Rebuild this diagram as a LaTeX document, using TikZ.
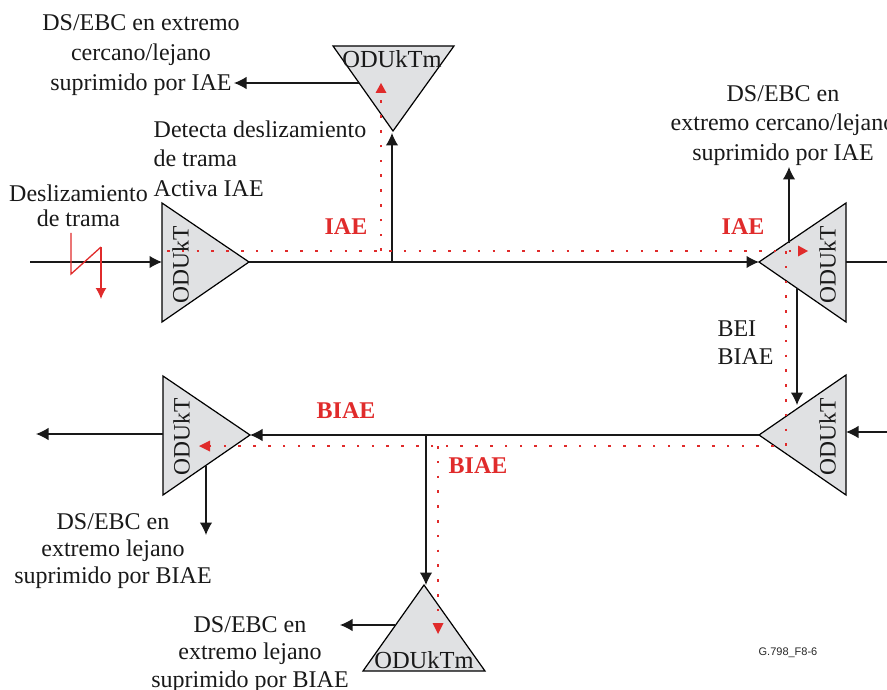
\documentclass[tikz,border=0pt]{standalone}
\usepackage{fontspec}
\setmainfont{Liberation Serif}
\setsansfont{Liberation Sans}
\usetikzlibrary{arrows.meta}
\definecolor{tri}{HTML}{E0E1E3}
\definecolor{redd}{HTML}{E02B2B}
\tikzset{
  x=1pt,y=-1pt,
  tribox/.style={draw=black,fill=tri,line width=1.2pt,line join=miter},
  wire/.style={draw=black!90,line width=1.15pt},
  flow/.style={wire,-{Latex[length=12.5pt,width=12.5pt]}},
  redflow/.style={draw=redd,line width=2.4pt,dash pattern=on 2.6pt off 12.2pt},
  redtip/.style={fill=redd,draw=none},
  lbl/.style={font=\fontsize{24}{29}\selectfont,align=center,inner sep=0pt,text=black!90},
  lblleft/.style={lbl,align=left},
  redlbl/.style={font=\fontsize{24}{24}\selectfont\bfseries,text=redd,inner sep=0pt},
  tname/.style={font=\fontsize{24.5}{24}\selectfont,inner sep=0pt,text=black!90},
  tnamev/.style={font=\fontsize{23.5}{24}\selectfont,inner sep=0pt,text=black!90,rotate=90},
}
\begin{document}
\begin{tikzpicture}
\clip (0,0) rectangle (887,690);
% triangle corners
\coordinate (aT) at (162,203); \coordinate (aB) at (162,322); \coordinate (aP) at (249,262);
\coordinate (bT) at (846,203); \coordinate (bB) at (846,322); \coordinate (bP) at (759,262);
\coordinate (cT) at (846,375); \coordinate (cB) at (846,495); \coordinate (cP) at (759,435);
\coordinate (dT) at (163,376); \coordinate (dB) at (163,495); \coordinate (dP) at (250,435);
\coordinate (eL) at (333,46);  \coordinate (eR) at (454,46);  \coordinate (eP) at (393,131);
\coordinate (fL) at (363,671); \coordinate (fR) at (485,671); \coordinate (fP) at (424,585);
% connector ends
\coordinate (inA) at (30,262);   \coordinate (inAe) at (162,262);
\coordinate (jA) at (392,262);   \coordinate (topE) at (392,133);
\coordinate (eOut) at (359,83);  \coordinate (eOutE) at (234,83);
\coordinate (bUp) at (789,243);  \coordinate (bUpE) at (789,167);
\coordinate (bOut) at (846,262); \coordinate (bOutE) at (887,262);
\coordinate (bDn) at (797,288);  \coordinate (bDnE) at (797,405);
\coordinate (cIn) at (887,432);  \coordinate (cInE) at (846,432);
\coordinate (jB) at (426,435);   \coordinate (jBe) at (426,585);
\coordinate (fOut) at (395,625); \coordinate (fOutE) at (340,625);
\coordinate (dOut) at (163,434); \coordinate (dOutE) at (36,434);
\coordinate (dDn) at (206,466);  \coordinate (dDnE) at (206,535);

\path[tribox] (aT) -- (aB) -- (aP) -- cycle;
\path[tribox] (bT) -- (bB) -- (bP) -- cycle;
\path[tribox] (cT) -- (cB) -- (cP) -- cycle;
\path[tribox] (dT) -- (dB) -- (dP) -- cycle;
\path[tribox] (eL) -- (eR) -- (eP) -- cycle;
\path[tribox] (fL) -- (fR) -- (fP) -- cycle;

\node[tnamev] (na) at (180.5,265) {ODUkT};
\node[tnamev] (nb) at (827.5,265) {ODUkT};
\node[tnamev] (nc) at (827.5,437) {ODUkT};
\node[tnamev] (nd) at (181.5,437) {ODUkT};
\node[tname] (ne) at (392,59) {ODUkTm};
\node[tname] (nf) at (424,660) {ODUkTm};

% black connectors
\draw[flow] (inA) -- (inAe);
\draw[flow] (aP) -- (bP);
\draw[flow] (jA) -- (topE);
\draw[flow] (eOut) -- (eOutE);
\draw[flow] (bUp) -- (bUpE);
\draw[wire] (bOut) -- (bOutE);
\draw[flow] (bDn) -- (bDnE);
\draw[flow] (cIn) -- (cInE);
\draw[flow] (cP) -- (dP);
\draw[flow] (jB) -- (jBe);
\draw[flow] (fOut) -- (fOutE);
\draw[flow] (dOut) -- (dOutE);
\draw[flow] (dDn) -- (dDnE);

% red dotted flows
\coordinate (r1) at (167,251); \coordinate (r2) at (798,251);
\coordinate (r3) at (381,251); \coordinate (r4) at (381,93);
\coordinate (r5) at (786,251); \coordinate (r6) at (786,446);
\coordinate (r7) at (210,446); \coordinate (r8) at (438,446); \coordinate (r9) at (438,623);
\draw[redflow] (r1) -- (r2);
\draw[redflow] (r3) -- (r4);
\draw[redflow] (r5) -- (r6) -- (r7);
\draw[redflow] (r8) -- (r9);
\fill[redtip] (808,251) -- (798,245.5) -- (798,256.5) -- cycle;
\fill[redtip] (381,83) -- (375.5,93) -- (386.5,93) -- cycle;
\fill[redtip] (199,446) -- (210,440.5) -- (210,451.5) -- cycle;
\fill[redtip] (438,634) -- (432.5,623) -- (443.5,623) -- cycle;

% lightning
\coordinate (z1) at (71,233); \coordinate (z2) at (71,274); \coordinate (z3) at (101,247); \coordinate (z4) at (101,299);
\draw[draw=redd,line width=1.3pt,line join=miter] (z1) -- (z2) -- (z3);
\draw[draw=redd,line width=1.4pt,-{Latex[length=11pt,width=11pt]}] (z3) -- (z4);

% labels
\node[lbl,font=\fontsize{24}{30}\selectfont] (t1) at (141,55) {DS/EBC en extremo\\cercano/lejano\\suprimido por IAE};
\node[lblleft,font=\fontsize{24}{29.5}\selectfont] (t2) at (260,158.5) {Detecta deslizamiento\\de trama\\Activa IAE};
\node[lbl,font=\fontsize{24}{25}\selectfont] (t3) at (78.5,205.5) {Deslizamiento\\de trama};
\node[lbl,font=\fontsize{24}{29.5}\selectfont] (t4) at (783,125.5) {DS/EBC en\\extremo cercano/lejano\\suprimido por IAE};
\node[lblleft,font=\fontsize{24}{28}\selectfont] (t5) at (745.5,343) {BEI\\BIAE};
\node[lbl,font=\fontsize{24}{27}\selectfont] (t6) at (113,551) {DS/EBC en\\extremo lejano\\suprimido por BIAE};
\node[lbl,font=\fontsize{24}{27.5}\selectfont] (t7) at (250,654.5) {DS/EBC en\\extremo lejano\\suprimido por BIAE};
\node[redlbl] (r11) at (346,227) {IAE};
\node[redlbl] (r12) at (743,227) {IAE};
\node[redlbl] (r13) at (346,411) {BIAE};
\node[redlbl] (r14) at (478,466) {BIAE};
\node[inner sep=0pt,font=\fontsize{11}{13}\sffamily,text=black!85] (gid) at (788,653) {G.798\_F8-6};
\end{tikzpicture}
\end{document}
